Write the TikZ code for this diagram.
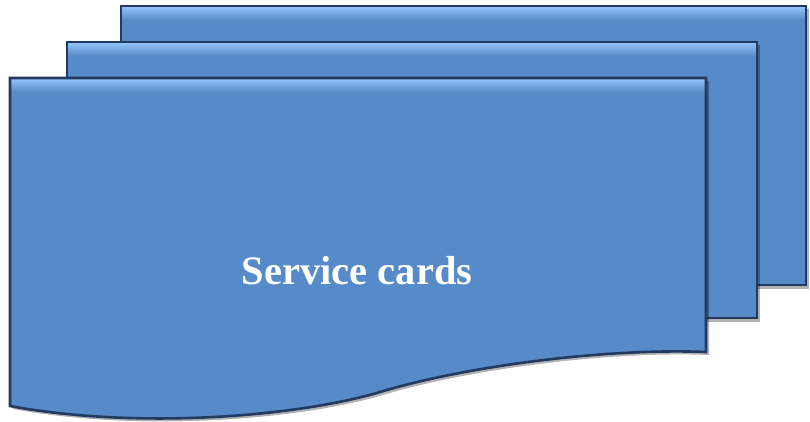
\documentclass[tikz,border=0pt]{standalone}
\usepackage{fontspec}
\setmainfont{Liberation Serif}
\definecolor{cardfill}{RGB}{86,138,201}
\definecolor{cardline}{RGB}{34,58,96}
\definecolor{cardhi}{RGB}{140,190,245}
\begin{document}
\begin{tikzpicture}[x=1pt,y=-1pt]
\tikzset{
  cardbody/.style={fill=cardfill},
  cardedge/.style={draw=cardline, line width=2.6pt, line join=miter},
  cardshadow/.style={fill=black, opacity=0.30},
  cardgleam/.style={top color=cardhi, bottom color=cardfill, shading angle=0},
  cardtext/.style={text=white, font=\bfseries\fontsize{40.5}{46}\selectfont, anchor=base}
}
\useasboundingbox (0,0) rectangle (810,422);
% back card
\fill[cardshadow] (124,9) rectangle (809,289);
\fill[cardbody] (121,6) rectangle (806,285);
\begin{scope}
  \clip (121,6) rectangle (806,285);
  \shade[cardgleam] (121,8) rectangle (806,20);
\end{scope}
\draw[cardedge] (121,6) rectangle (806,285);
% middle card
\fill[cardshadow] (70,45) rectangle (760,322);
\fill[cardbody] (67,42) rectangle (757,318);
\begin{scope}
  \clip (67,42) rectangle (757,318);
  \shade[cardgleam] (67,44) rectangle (757,56);
\end{scope}
\draw[cardedge] (67,42) rectangle (757,318);
% front card
\fill[cardshadow, shift={(3,3)}] (10,78) -- (706,78) -- (706,352)
  .. controls (610,348) and (470,365) .. (380,392)
  .. controls (300,416) and (140,430) .. (10,406) -- cycle;
\fill[cardbody] (10,78) -- (706,78) -- (706,352)
  .. controls (610,348) and (470,365) .. (380,392)
  .. controls (300,416) and (140,430) .. (10,406) -- cycle;
\begin{scope}
  \clip (10,78) rectangle (706,352);
  \shade[cardgleam] (10,80) rectangle (706,92);
\end{scope}
\draw[cardedge] (10,78) -- (706,78) -- (706,352)
  .. controls (610,348) and (470,365) .. (380,392)
  .. controls (300,416) and (140,430) .. (10,406) -- cycle;
\node[cardtext] (label) at (357,284) {Service cards};
\end{tikzpicture}
\end{document}
